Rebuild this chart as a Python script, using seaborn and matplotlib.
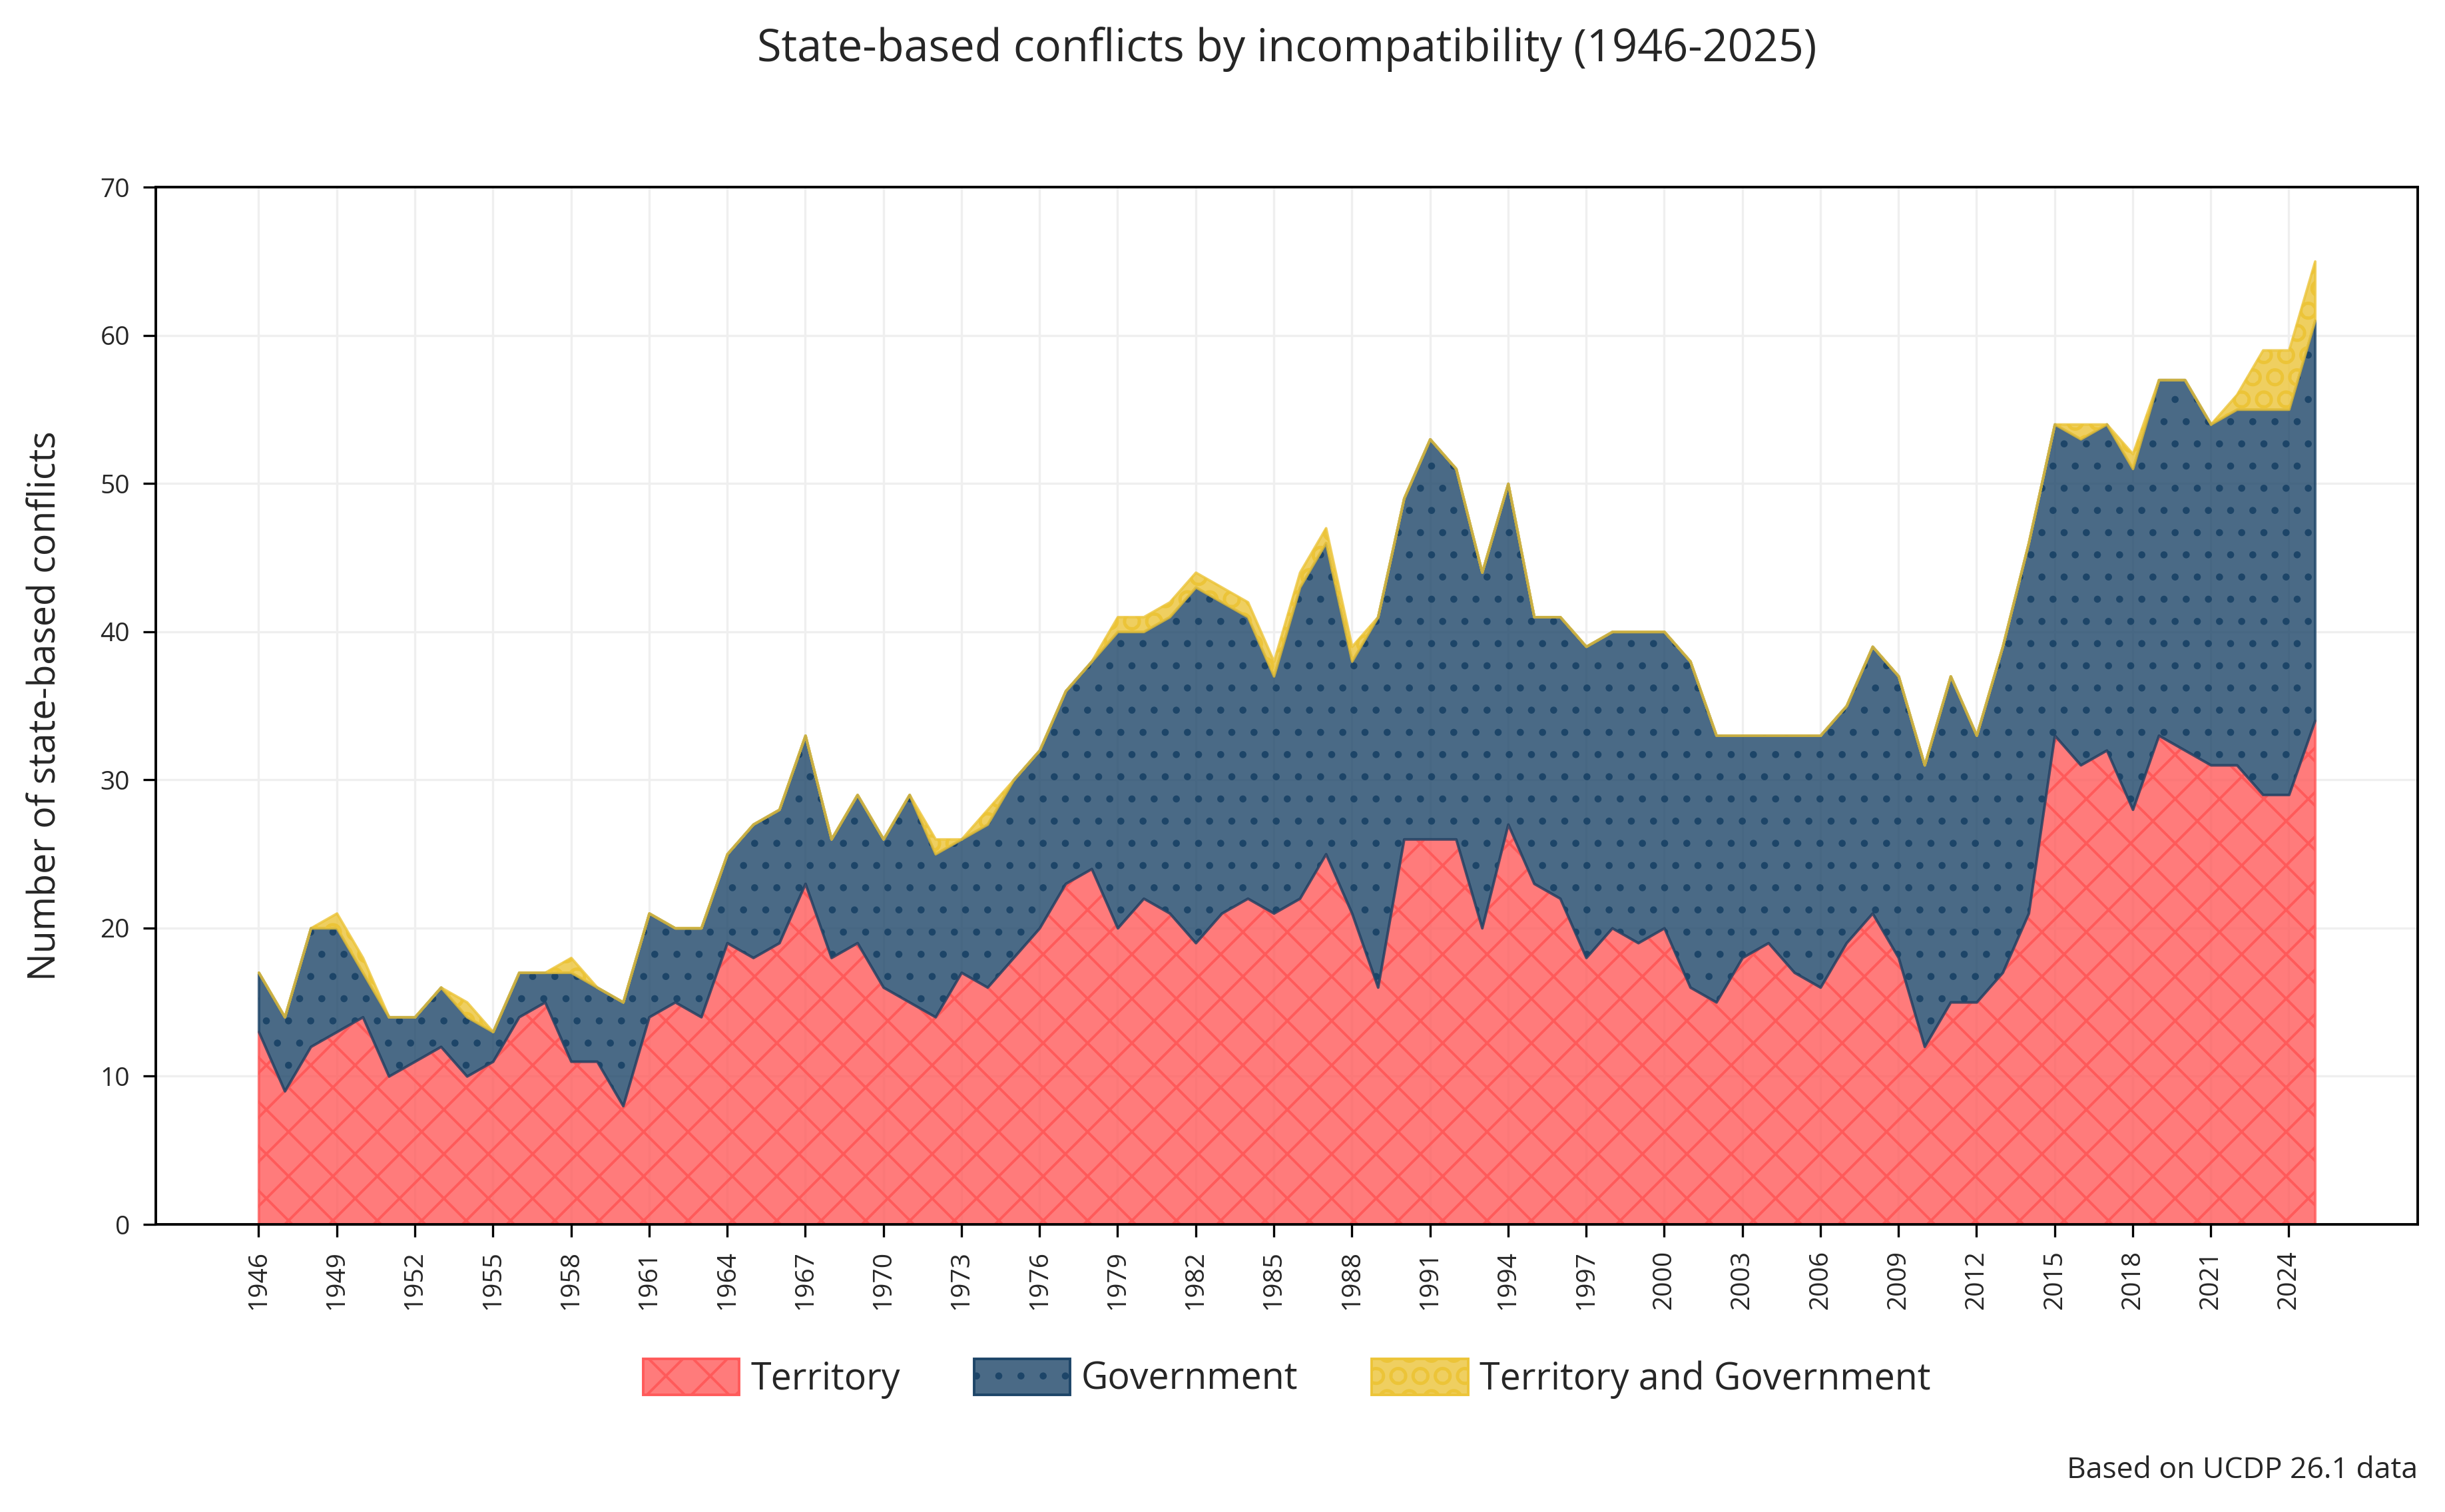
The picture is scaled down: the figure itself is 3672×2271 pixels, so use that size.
import numpy as np
import pandas as pd
import matplotlib
matplotlib.use("Agg")
import matplotlib.pyplot as plt
from matplotlib.patches import Patch
import matplotlib.colors as mcolors
import seaborn as sns

# ---------------- data ----------------
years = list(range(1946, 2026))

territory = [13, 9, 12, 13, 14, 10, 11, 12, 10, 11,
             14, 15, 11, 11, 8, 14, 15, 14, 19, 18,
             19, 23, 18, 19, 16, 15, 14, 17, 16, 18,
             20, 23, 24, 20, 22, 21, 19, 21, 22, 21,
             22, 25, 21, 16, 26, 26, 26, 20, 27, 23,
             22, 18, 20, 19, 20, 16, 15, 18, 19, 17,
             16, 19, 21, 18, 12, 15, 15, 17, 21, 33,
             31, 32, 28, 33, 32, 31, 31, 29, 29, 34]

government = [4, 5, 8, 7, 3, 4, 3, 4, 4, 2,
              3, 2, 6, 5, 7, 7, 5, 6, 6, 9,
              9, 10, 8, 10, 10, 14, 11, 9, 11, 12,
              12, 13, 14, 20, 18, 20, 24, 21, 19, 16,
              21, 21, 17, 25, 23, 27, 25, 24, 23, 18,
              19, 21, 20, 21, 20, 22, 18, 15, 14, 16,
              17, 16, 18, 19, 19, 22, 18, 22, 25, 21,
              22, 22, 23, 24, 25, 23, 24, 26, 26, 27]

terr_and_gov = [0, 0, 0, 1, 1, 0, 0, 0, 1, 0,
                0, 0, 1, 0, 0, 0, 0, 0, 0, 0,
                0, 0, 0, 0, 0, 0, 1, 0, 1, 0,
                0, 0, 0, 1, 1, 1, 1, 1, 1, 1,
                1, 1, 1, 0, 0, 0, 0, 0, 0, 0,
                0, 0, 0, 0, 0, 0, 0, 0, 0, 0,
                0, 0, 0, 0, 0, 0, 0, 0, 0, 0,
                1, 0, 1, 0, 0, 0, 1, 4, 4, 4]

series_names = ["Territory", "Government", "Territory and Government"]
series_colors = ["#FF5A5A", "#1D4568", "#ECC438"]
series_hatches = ["xx", "..", "OO"]

x_tick_years = years[::3]
y_ticks = [0, 10, 20, 30, 40, 50, 60, 70]

title_text = "State-based conflicts by incompatibility (1946-2025)"
ylabel_text = "Number of state-based conflicts"
footnote_text = "Based on UCDP 26.1 data"

# ---------------- style ----------------
sns.set_style("ticks")
plt.rcParams["font.family"] = ["Open Sans", "DejaVu Sans"]
plt.rcParams["hatch.linewidth"] = 0.7

df = pd.DataFrame({"year": years,
                   "Territory": territory,
                   "Government": government,
                   "Territory and Government": terr_and_gov})

W, H, DPI = 3673, 2271, 400
fig = plt.figure(figsize=(W / DPI, H / DPI), dpi=DPI)
ax_l, ax_r, ax_t, ax_b = 234 / W, 3631 / W, 281 / H, 1839 / H
ax = fig.add_axes([ax_l, 1 - ax_b, ax_r - ax_l, ax_b - ax_t])

ALPHA = 0.8
handles = []
base = np.zeros(len(df))
for name, col, h in zip(series_names, series_colors, series_hatches):
    top = base + df[name].to_numpy()
    rgba_a = mcolors.to_rgba(col, ALPHA)
    # translucent face with translucent outline
    ax.fill_between(df["year"], base, top, facecolor=rgba_a, edgecolor=rgba_a,
                    linewidth=0.7, zorder=2)
    # opaque hatch overlay
    ax.fill_between(df["year"], base, top, facecolor="none", edgecolor=col,
                    linewidth=0, hatch=h, zorder=2)
    handles.append(Patch(facecolor=rgba_a, edgecolor=col, hatch=h,
                         linewidth=0.7, label=name))
    base = top

span = years[-1] - years[0]
ax.set_xlim(years[0] - 0.05 * span, years[-1] + 0.05 * span)
ax.set_ylim(0, 70)
ax.set_xticks(x_tick_years)
ax.set_xticklabels([str(y) for y in x_tick_years], rotation=90)
ax.set_yticks(y_ticks)
ax.tick_params(axis="both", labelsize=7, length=3.5, width=0.6, color="black")

ax.grid(True, color="#efefef", linewidth=0.6, zorder=0)
ax.set_axisbelow(True)
for sp in ax.spines.values():
    sp.set_visible(True)
    sp.set_color("black")
    sp.set_linewidth(0.7)

ax.set_ylabel(ylabel_text, fontsize=10, labelpad=9.5)
ax.set_xlabel("")

cx = (ax_l + ax_r) / 2
fig.text(cx, 1 - 92 / H, title_text, ha="center", va="baseline", fontsize=12)

ax.legend(handles=handles, loc="center", bbox_to_anchor=(cx, 1 - 2071 / H),
          bbox_transform=fig.transFigure, ncol=3, frameon=False, fontsize=10,
          handlelength=2.6, handleheight=1.1, handletextpad=0.3, columnspacing=2.0)

fig.text(ax_r, 1 - 2220 / H, footnote_text, ha="right", va="baseline", fontsize=8)

fig.savefig("out.png", dpi=DPI)
